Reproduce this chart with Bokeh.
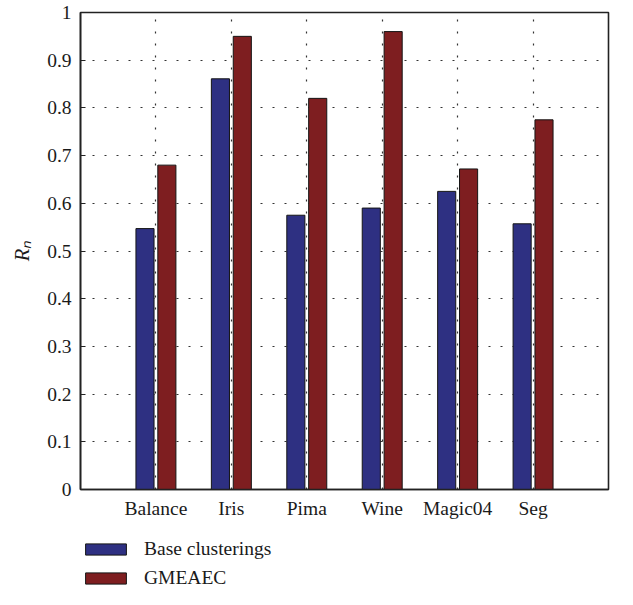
from bokeh.plotting import figure
from bokeh.layouts import column
from bokeh.models import (Range1d, FixedTicker, Legend, LegendItem,
                          CustomJSTickFormatter, ColumnDataSource)
from bokeh.embed import file_html
from bokeh.resources import INLINE

categories = ["Balance", "Iris", "Pima", "Wine", "Magic04", "Seg"]
base_clusterings = [0.547, 0.861, 0.575, 0.590, 0.625, 0.557]
gmeaec = [0.680, 0.950, 0.820, 0.960, 0.672, 0.775]
y_ticks = [0, 0.1, 0.2, 0.3, 0.4, 0.5, 0.6, 0.7, 0.8, 0.9, 1.0]
series_names = ["Base clusterings", "GMEAEC"]

FONT = "Liberation Serif"
FS = "19.5px"
BLUE = "#2E3082"
RED = "#7E1E20"
DARK = "#222222"
EDGE = "#151515"

xs = list(range(1, len(categories) + 1))
src = ColumnDataSource(dict(
    xb=[x - 0.145 for x in xs], xr=[x + 0.145 for x in xs],
    base=base_clusterings, gme=gmeaec))

p = figure(width=617, height=525, min_border_left=80, min_border_right=9,
           min_border_top=12, min_border_bottom=36,
           x_range=Range1d(0, 7), y_range=Range1d(0, 1),
           output_backend="svg", toolbar_location=None)

p.vbar(x="xb", top="base", width=0.24, source=src, fill_color=BLUE,
       line_color=EDGE, line_width=1)
p.vbar(x="xr", top="gme", width=0.24, source=src, fill_color=RED,
       line_color=EDGE, line_width=1)

p.xaxis.ticker = FixedTicker(ticks=xs)
p.xaxis.major_label_overrides = {x: c for x, c in zip(xs, categories)}
p.yaxis.ticker = FixedTicker(ticks=y_ticks)
p.yaxis.formatter = CustomJSTickFormatter(
    code="return tick.toFixed(1).replace(/\\.0$/, '');")
p.yaxis.axis_label = "Rₙ"

for ax in [p.xaxis[0], p.yaxis[0]]:
    ax.major_label_text_font = FONT
    ax.major_label_text_font_size = FS
    ax.major_label_text_color = "#1a1a1a"
    ax.axis_line_color = DARK
    ax.axis_line_width = 1.6
    ax.major_tick_in = 5
    ax.major_tick_out = 0
    ax.major_tick_line_color = DARK
    ax.major_tick_line_width = 1.2
    ax.minor_tick_line_color = None
    ax.axis_label_text_font = FONT
    ax.axis_label_text_font_size = "20.5px"
    ax.axis_label_text_font_style = "italic"
    ax.axis_label_text_color = "#1a1a1a"

p.yaxis.major_label_standoff = 9
p.yaxis.axis_label_standoff = 11
p.xaxis.major_label_standoff = 8
p.xaxis.major_tick_in = 0

p.grid.grid_line_color = "#333333"
p.grid.grid_line_dash = "2 10"
p.grid.grid_line_width = 1.2
p.outline_line_color = DARK
p.outline_line_width = 1.6
p.background_fill_color = "white"
p.border_fill_color = "white"

# legend panel below the chart (its swatch renderers sit outside the visible range)
lf = figure(width=617, height=64, min_border=0, min_border_left=0,
            min_border_right=0, min_border_top=0, min_border_bottom=0,
            x_range=Range1d(0, 1), y_range=Range1d(0, 1),
            x_axis_type=None, y_axis_type=None,
            output_backend="svg", toolbar_location=None)
lf.grid.visible = False
lf.outline_line_color = None
lf.background_fill_color = "white"
lf.border_fill_color = "white"
hidden = ColumnDataSource(dict(x=[-10.0], top=[-10.0]))
lb = lf.vbar(x="x", top="top", width=0.1, source=hidden, fill_color=BLUE,
             line_color=EDGE, line_width=1)
lr = lf.vbar(x="x", top="top", width=0.1, source=hidden, fill_color=RED,
             line_color=EDGE, line_width=1)
legend = Legend(items=[LegendItem(label=series_names[0], renderers=[lb]),
                       LegendItem(label=series_names[1], renderers=[lr])],
                location=(0, 0), orientation="vertical",
                glyph_width=51, glyph_height=14, label_standoff=13,
                label_height=20,
                label_text_font=FONT, label_text_font_size=FS,
                label_text_color="#1a1a1a", spacing=7, padding=0, margin=0,
                border_line_color=None, background_fill_alpha=0)
lf.add_layout(legend, "center")

open("out.html", "w").write(file_html(column(p, lf, spacing=0), INLINE))
